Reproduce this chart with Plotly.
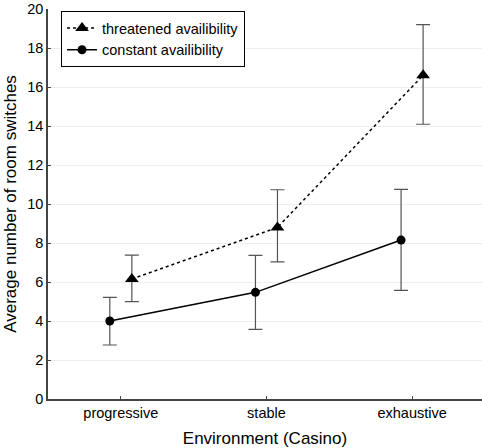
import plotly.graph_objects as go

categories = ["progressive", "stable", "exhaustive"]
threatened_mean = [6.15, 8.80, 16.60]
threatened_upper = [7.38, 10.73, 19.20]
threatened_lower = [4.99, 7.03, 14.09]
constant_mean = [4.00, 5.47, 8.15]
constant_upper = [5.21, 7.37, 10.75]
constant_lower = [2.77, 3.57, 5.57]
y_ticks = [0, 2, 4, 6, 8, 10, 12, 14, 16, 18, 20]

idx = list(range(len(categories)))
off = 0.0756

def errs(mean, up, lo):
    return [u - m for u, m in zip(up, mean)], [m - l for m, l in zip(mean, lo)]

tp, tm = errs(threatened_mean, threatened_upper, threatened_lower)
cp, cm = errs(constant_mean, constant_upper, constant_lower)

fig = go.Figure()
fig.add_trace(go.Scatter(
    x=[i + off for i in idx], y=threatened_mean, name="threatened availibility",
    mode="lines+markers",
    line=dict(color="black", width=1.5, dash="dot"),
    marker=dict(symbol="triangle-up", size=12, color="black"),
    error_y=dict(type="data", array=tp, arrayminus=tm, color="#555555", thickness=1.2, width=7),
))
fig.add_trace(go.Scatter(
    x=[i - off for i in idx], y=constant_mean, name="constant availibility",
    mode="lines+markers",
    line=dict(color="black", width=1.5),
    marker=dict(symbol="circle", size=9, color="black"),
    error_y=dict(type="data", array=cp, arrayminus=cm, color="#555555", thickness=1.2, width=7),
))

fig.update_layout(
    width=482, height=448,
    margin=dict(l=48, r=0, t=9, b=49),
    paper_bgcolor="white", plot_bgcolor="white",
    font=dict(family="Liberation Sans, Arial, sans-serif", size=14.5, color="black"),
    showlegend=True,
    legend=dict(x=0.03, y=0.995, xanchor="left", yanchor="top",
                bordercolor="black", borderwidth=1, bgcolor="white",
                font=dict(size=14.5), tracegroupgap=0, itemwidth=30),
)
fig.update_xaxes(
    range=[-0.5, 2.48], tickvals=idx, ticktext=categories,
    showline=True, linecolor="#444444", linewidth=1.5,
    ticks="inside", ticklen=3, tickcolor="#444444",
    showgrid=False, zeroline=False, automargin=False,
    title=dict(text="Environment (Casino)", standoff=14),
)
fig.update_yaxes(
    range=[0, 20], tickvals=y_ticks,
    showline=True, linecolor="#444444", linewidth=1.5,
    ticks="inside", ticklen=3, tickcolor="#444444",
    showgrid=True, gridcolor="#eeeeee", gridwidth=1, zeroline=False, automargin=False,
    title=dict(text="Average number of room switches", standoff=6),
)

fig.write_html("out.html", config={"displayModeBar": False},
               post_script="document.body.style.margin='0';document.body.style.padding='0';document.body.style.overflow='hidden';")
